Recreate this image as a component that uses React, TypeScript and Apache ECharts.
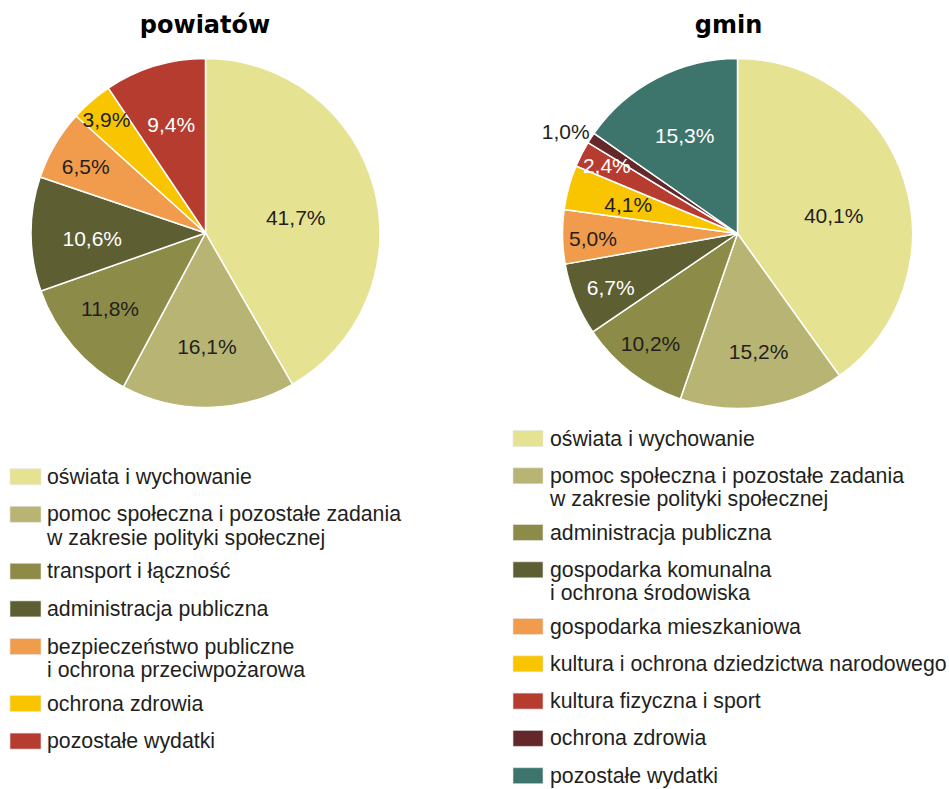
import React, { useEffect, useRef } from "react";
import * as echarts from "echarts";

// ---- data ----
const powiatTitle = "powiatów";
const gminTitle = "gmin";

const powiatCategories = [
  "oświata i wychowanie",
  "pomoc społeczna i pozostałe zadania\nw zakresie polityki społecznej",
  "transport i łączność",
  "administracja publiczna",
  "bezpieczeństwo publiczne\ni ochrona przeciwpożarowa",
  "ochrona zdrowia",
  "pozostałe wydatki",
];
const powiatValues = [41.7, 16.1, 11.8, 10.6, 6.5, 3.9, 9.4];

const gminCategories = [
  "oświata i wychowanie",
  "pomoc społeczna i pozostałe zadania\nw zakresie polityki społecznej",
  "administracja publiczna",
  "gospodarka komunalna\ni ochrona środowiska",
  "gospodarka mieszkaniowa",
  "kultura i ochrona dziedzictwa narodowego",
  "kultura fizyczna i sport",
  "ochrona zdrowia",
  "pozostałe wydatki",
];
const gminValues = [40.1, 15.2, 10.2, 6.7, 5.0, 4.1, 2.4, 1.0, 15.3];

// ---- styles ----
const powiatColors = ["#E5E291", "#B8B574", "#8C8B47", "#5E5E33", "#F09C4C", "#F8C500", "#B53C2F"];
const gminColors = ["#E5E291", "#B8B574", "#8C8B47", "#5E5E33", "#F09C4C", "#F8C500", "#B53C2F", "#64282A", "#3D756C"];
const powiatLabelColors = ["#231F20", "#231F20", "#231F20", "#FFFFFF", "#231F20", "#231F20", "#FFFFFF"];
const gminLabelColors = ["#231F20", "#231F20", "#231F20", "#FFFFFF", "#231F20", "#231F20", "#FFFFFF", "#231F20", "#FFFFFF"];

// label nudges relative to the library's "inside" label position
const powiatLabelNudge = [[3, 8], [0, 23], [-27, 17], [-23, 5], [-42, -21], [-40, -45], [-8, -22]];
const gminLabelNudge = [[10, 10], [8, 28], [-32, 38], [-43, 20], [-54, 3], [-22, -5], [-50, -27], [-96, -53], [-11, -18]];

const TEXT = "#231F20";
const LABEL_FONT = "Liberation Sans, Arial, sans-serif";

function fmt(v: number) {
  return v.toFixed(1).replace(".", ",") + "%";
}

function legendElements(
  cats: string[],
  colors: string[],
  rectX: number,
  rectW: number,
  textX: number,
  firstY: number,
  pitch1: number,
  pitch2: number
) {
  const els: any[] = [];
  let y = firstY;
  cats.forEach((c, i) => {
    const lines = c.split("\n");
    els.push({
      type: "rect",
      shape: { x: rectX, y: y - 8, width: rectW, height: 16 },
      style: { fill: colors[i], stroke: "#E6E6E6", lineWidth: 0.6 },
      silent: true,
    });
    lines.forEach((ln, k) => {
      els.push({
        type: "text",
        x: textX,
        y: y + k * 23.4,
        style: {
          text: ln,
          fill: TEXT,
          font: `21.3px ${LABEL_FONT}`,
          lineHeight: 19,
          textAlign: "left",
          textVerticalAlign: "middle",
        },
        silent: true,
      });
    });
    y += lines.length > 1 ? pitch2 : pitch1;
  });
  return els;
}

function pieSeries(cats: string[], vals: number[], colors: string[], labelColors: string[], center: number[], radius: number) {
  return {
    type: "pie",
    center,
    radius: [0, radius],
    startAngle: 90,
    clockwise: true,
    avoidLabelOverlap: false,
    silent: true,
    emphasis: { disabled: true },
    labelLine: { show: false },
    itemStyle: { borderColor: "#FFFFFF", borderWidth: 1.5 },
    label: {
      show: true,
      position: "inside",
      fontFamily: LABEL_FONT,
      fontSize: 21,
      textBorderWidth: 0,
      formatter: (p: any) => fmt(p.value),
    },
    data: vals.map((v, i) => ({
      name: cats[i].replace("\n", " "),
      value: v,
      itemStyle: { color: colors[i] },
      label: { color: labelColors[i] },
    })),
  };
}

export default function App() {
  const ref = useRef<HTMLDivElement>(null);
  useEffect(() => {
    if (!ref.current) return;
    const chart = echarts.init(ref.current, undefined, { renderer: "svg" });
    const s1: any = pieSeries(powiatCategories, powiatValues, powiatColors, powiatLabelColors, [205.5, 233], 174.5);
    s1.labelLayout = (p: any) => ({ dx: powiatLabelNudge[p.dataIndex][0], dy: powiatLabelNudge[p.dataIndex][1] });
    const s2: any = pieSeries(gminCategories, gminValues, gminColors, gminLabelColors, [737.5, 233.5], 175);
    s2.labelLayout = (p: any) => ({ dx: gminLabelNudge[p.dataIndex][0], dy: gminLabelNudge[p.dataIndex][1] });

    chart.setOption({
      animation: false,
      backgroundColor: "#FFFFFF",
      series: [s1, s2],
      graphic: [
        {
          type: "text",
          x: 205,
          y: 25,
          style: {
            text: powiatTitle,
            fill: "#000000",
            font: "bold 24px DejaVu Sans, sans-serif",
            textAlign: "center",
            textVerticalAlign: "middle",
          },
          silent: true,
        },
        {
          type: "text",
          x: 728.5,
          y: 25,
          style: {
            text: gminTitle,
            fill: "#000000",
            font: "bold 24px DejaVu Sans, sans-serif",
            textAlign: "center",
            textVerticalAlign: "middle",
          },
          silent: true,
        },
        ...legendElements(powiatCategories, powiatColors, 10, 31, 47, 476.7, 37.6, 57),
        ...legendElements(gminCategories, gminColors, 513, 30, 550, 438.5, 37.3, 56.7),
      ],
    });
    return () => chart.dispose();
  }, []);
  return <div ref={ref} style={{ position: "absolute", left: 0, top: 0, width: 949, height: 789 }} />;
}
